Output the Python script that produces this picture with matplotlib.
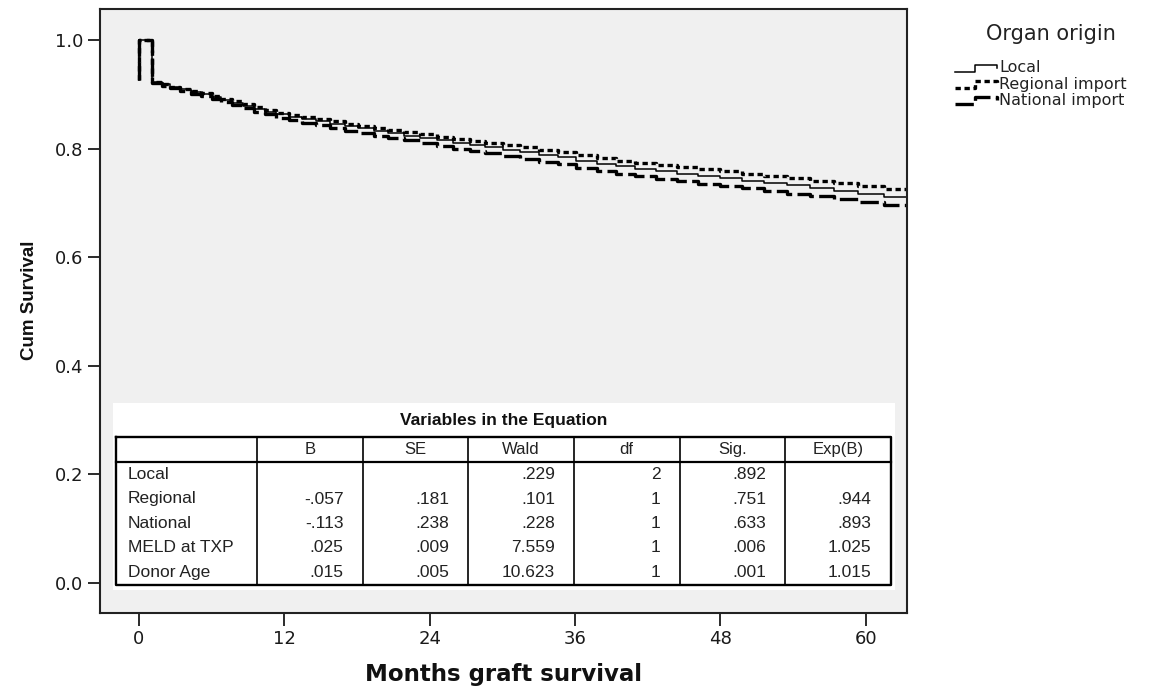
import matplotlib
matplotlib.use('Agg')
import matplotlib.pyplot as plt

# Survival step data (months, cumulative survival)
months = [0, 0, 1.1, 1.9, 2.6, 3.4, 4.3, 5.1, 6.0, 6.8, 7.7, 8.6, 9.5, 10.4, 11.3,
          12.4, 13.5, 14.6, 15.8, 17.0, 18.1, 19.4, 20.6, 21.9, 23.2, 24.6, 25.9,
          27.3, 28.6, 30.1, 31.5, 33.0, 34.6, 36.1, 37.8, 39.4, 41.0, 42.7, 44.4,
          46.2, 48.0, 49.8, 51.6, 53.5, 55.4, 57.4, 59.4, 61.5, 63.5]
local_surv = [0.926, 1.0, 0.922, 0.918, 0.913, 0.909, 0.904, 0.900, 0.895, 0.890,
              0.884, 0.879, 0.873, 0.868, 0.863, 0.858, 0.854, 0.850, 0.846, 0.841,
              0.837, 0.832, 0.828, 0.824, 0.820, 0.815, 0.811, 0.807, 0.803, 0.798,
              0.794, 0.789, 0.784, 0.778, 0.772, 0.767, 0.763, 0.758, 0.754, 0.749,
              0.745, 0.741, 0.737, 0.732, 0.727, 0.722, 0.717, 0.711, 0.711]
regional_surv = [0.926, 1.0, 0.923, 0.919, 0.914, 0.910, 0.906, 0.902, 0.897, 0.892,
                 0.887, 0.882, 0.876, 0.871, 0.866, 0.862, 0.858, 0.854, 0.850, 0.846,
                 0.842, 0.838, 0.834, 0.830, 0.826, 0.822, 0.818, 0.814, 0.811, 0.807,
                 0.803, 0.798, 0.794, 0.788, 0.783, 0.778, 0.774, 0.770, 0.766, 0.762,
                 0.758, 0.754, 0.750, 0.746, 0.741, 0.736, 0.731, 0.725, 0.725]
national_surv = [0.926, 1.0, 0.921, 0.916, 0.911, 0.906, 0.901, 0.897, 0.891, 0.886,
                 0.880, 0.874, 0.868, 0.863, 0.857, 0.852, 0.847, 0.843, 0.838, 0.833,
                 0.829, 0.824, 0.819, 0.815, 0.810, 0.805, 0.800, 0.796, 0.791, 0.786,
                 0.781, 0.776, 0.771, 0.765, 0.759, 0.754, 0.749, 0.744, 0.740, 0.735,
                 0.731, 0.727, 0.722, 0.717, 0.712, 0.707, 0.702, 0.696, 0.696]

series_names = ['Local', 'Regional import', 'National import']

# Cox regression table
row_names = ['Local', 'Regional', 'National', 'MELD at TXP', 'Donor Age']
col_names = ['B', 'SE', 'Wald', 'df', 'Sig.', 'Exp(B)']
coef_b = ['', '-.057', '-.113', '.025', '.015']
coef_se = ['', '.181', '.238', '.009', '.005']
wald = ['.229', '.101', '.228', '7.559', '10.623']
dfree = ['2', '1', '1', '1', '1']
sig = ['.892', '.751', '.633', '.006', '.001']
exp_b = ['', '.944', '.893', '1.025', '1.015']

W, H = 1149, 688


def fbox(x0, y0, x1, y1):
    # pixel box (top-left origin) -> figure fraction rect
    return [x0 / W, 1 - y1 / H, (x1 - x0) / W, (y1 - y0) / H]


styles = [dict(color='black', lw=1.1, linestyle='-'),
          dict(color='black', lw=2.4, linestyle=(0, (1.6, 1.1))),
          dict(color='black', lw=2.4, linestyle=(0, (5.5, 1.6)))]

fig = plt.figure(figsize=(W / 100, H / 100), dpi=100)
ax = fig.add_axes(fbox(100, 9, 907, 613))
ax.set_facecolor('#f0f0f0')

for surv, name, st in zip([local_surv, regional_surv, national_surv], series_names, styles):
    ax.step(months, surv, where='post', label=name, **st)

ax.set_xlim(-3.22, 63.42)
ax.set_ylim(-0.0552, 1.057)
ax.set_xticks([0, 12, 24, 36, 48, 60])
ax.set_yticks([0.0, 0.2, 0.4, 0.6, 0.8, 1.0])
ax.set_yticklabels(['0.0', '0.2', '0.4', '0.6', '0.8', '1.0'])
ax.tick_params(length=9, width=1.3, pad=3, labelsize=13, colors='#1a1a1a')
for s in ax.spines.values():
    s.set_linewidth(1.5)
    s.set_color('#222222')

fig.text(503.5 / W, 1 - 674 / H, 'Months graft survival', ha='center', va='center',
         fontsize=16.5, fontweight='bold', color='#111111')
fig.text(30 / W, 1 - 300 / H, 'Cum Survival', ha='center', va='center', rotation=90,
         fontsize=13.5, fontweight='bold', family='Liberation Sans', color='#111111')

# legend, drawn by hand with SPSS-like step icons
fig.text(1051 / W, 1 - 34 / H, 'Organ origin', ha='center', va='center',
         fontsize=15, color='#222222')
leg = fig.add_axes(fbox(950, 55, 1149, 115))
leg.set_xlim(950, 1149)
leg.set_ylim(115, 55)
leg.axis('off')
for i, (name, st) in enumerate(zip(series_names, styles)):
    y = 68 + 16 * i
    leg.plot([955, 975, 975, 997, 997], [y + 3.5, y + 3.5, y - 3.5, y - 3.5, y - 0.5], **st)
    leg.text(999, y, name, ha='left', va='center', fontsize=11.5, color='#222222')

# table of Cox coefficients
tab = fig.add_axes(fbox(113, 403, 895, 590))
tab.set_xlim(113, 895)
tab.set_ylim(590, 403)
tab.set_facecolor('white')
tab.set_xticks([])
tab.set_yticks([])
for s in tab.spines.values():
    s.set_visible(False)

col_x = [116, 257, 362.5, 468, 574, 679.5, 785, 890.5]
t_top, h_bot, t_bot = 437, 462, 585
row_y = [474.5, 499, 523.5, 548, 572.5]

tab.text((col_x[0] + col_x[-1]) / 2, 420, 'Variables in the Equation', ha='center',
         va='center', fontsize=12.5, fontweight='bold', family='Liberation Sans',
         color='#111111')
tab.plot([col_x[0], col_x[-1], col_x[-1], col_x[0], col_x[0]],
         [t_top, t_top, t_bot, t_bot, t_top], color='black', lw=1.7)
tab.plot([col_x[0], col_x[-1]], [h_bot, h_bot], color='black', lw=1.6)
for x in col_x[1:-1]:
    tab.plot([x, x], [t_top, t_bot], color='black', lw=1.2)

for j, name in enumerate(col_names):
    tab.text((col_x[j + 1] + col_x[j + 2]) / 2, 449.5, name, ha='center', va='center',
             fontsize=12, family='Liberation Sans', color='#222222')

columns = [coef_b, coef_se, wald, dfree, sig, exp_b]
for i, name in enumerate(row_names):
    tab.text(col_x[0] + 12, row_y[i], name, ha='left', va='center', fontsize=12.5,
             family='Liberation Sans', color='#222222')
    for j, col in enumerate(columns):
        tab.text(col_x[j + 2] - 19, row_y[i], col[i], ha='right', va='center',
                 fontsize=12.5, family='Liberation Sans', color='#222222')

fig.savefig('out.png', dpi=100)
